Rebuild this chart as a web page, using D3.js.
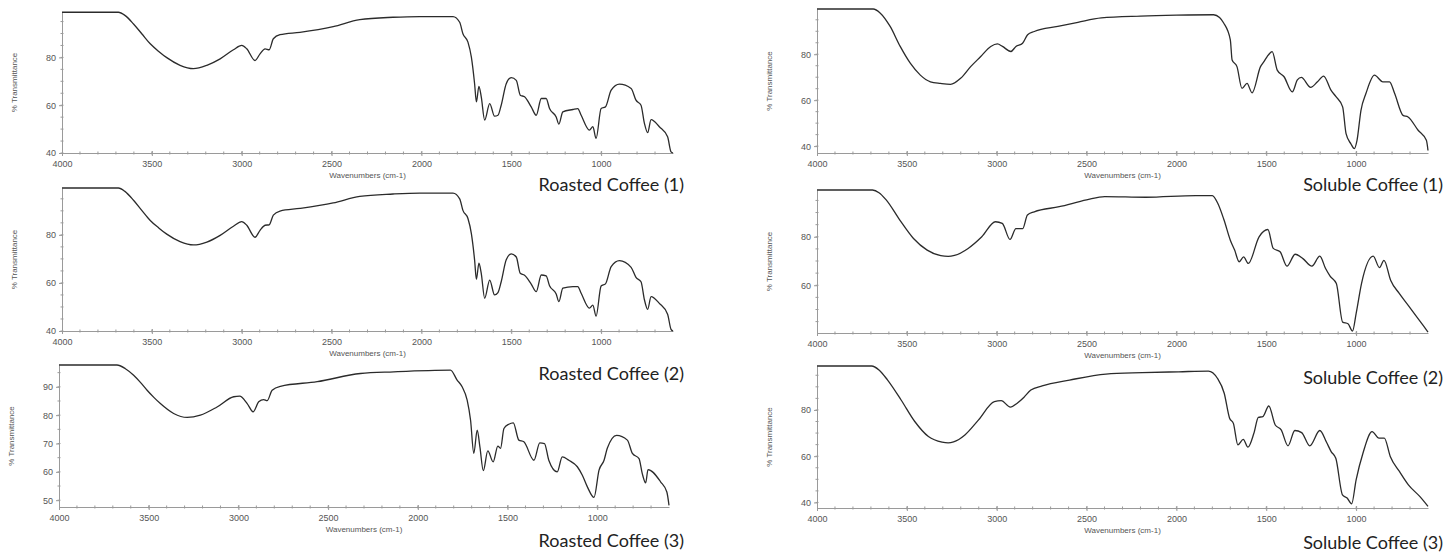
<!DOCTYPE html>
<html>
<head>
<meta charset="utf-8">
<script src="https://cdn.jsdelivr.net/npm/d3@7"></script>
<style>
  body { margin: 0; background: #fff; }
  svg { display: block; }
</style>
</head>
<body>
<svg id="chart" width="1455" height="555"></svg>
<script>
// FTIR spectra, [wavenumber cm-1, % transmittance]
const roasted1 = [
  [4000, 98.9], [3686, 98.9], [3650, 97.6], [3602, 94.0], [3555, 89.8], [3509, 85.7], [3460, 82.4],
  [3417, 79.9], [3343, 76.7], [3269, 75.3], [3194, 76.7], [3120, 79.4], [3046, 83.2], [3000, 85.0],
  [2972, 83.6], [2926, 78.7], [2898, 81.5], [2870, 83.6], [2847, 83.2], [2824, 87.8], [2787, 89.5],
  [2676, 90.5], [2491, 92.9], [2343, 95.8], [2158, 96.8], [2009, 97.1], [1824, 97.1], [1787, 94.7],
  [1769, 89.9], [1741, 86.4], [1722, 80.1], [1704, 69.0], [1694, 61.4], [1680, 67.9], [1667, 63.5],
  [1648, 53.8], [1620, 60.7], [1593, 55.4], [1574, 55.8], [1556, 60.0], [1528, 69.0], [1500, 71.5],
  [1472, 70.4], [1450, 64.2], [1426, 63.5], [1389, 59.3], [1361, 55.8], [1333, 62.8], [1306, 62.8],
  [1287, 58.6], [1250, 55.1], [1235, 52.1], [1213, 57.2], [1157, 58.2], [1130, 58.6], [1111, 55.8],
  [1065, 49.6], [1046, 51.0], [1028, 46.1], [1000, 58.6], [976, 59.3], [944, 66.3], [898, 68.8],
  [833, 67.0], [806, 62.1], [778, 60.0], [759, 52.4], [741, 48.5], [722, 54.0], [676, 51.0],
  [630, 46.8], [611, 40.5], [600, 40.0]
];
const roasted2 = [
  [4000, 99.5], [3686, 99.5], [3650, 98.1], [3602, 94.4], [3555, 90.1], [3509, 86.0], [3460, 82.8],
  [3417, 80.3], [3343, 77.2], [3269, 75.8], [3194, 77.0], [3120, 79.8], [3046, 83.6], [3000, 85.5],
  [2972, 84.0], [2926, 79.0], [2898, 81.9], [2870, 84.0], [2847, 84.2], [2824, 88.2], [2787, 89.9],
  [2676, 91.0], [2491, 93.3], [2343, 96.0], [2158, 97.0], [2009, 97.4], [1824, 97.4], [1787, 95.0],
  [1769, 90.2], [1741, 86.8], [1722, 80.5], [1704, 69.5], [1694, 61.5], [1680, 68.2], [1667, 64.0],
  [1648, 53.6], [1620, 61.2], [1593, 55.0], [1574, 56.0], [1556, 60.5], [1528, 69.6], [1500, 72.1],
  [1472, 70.8], [1450, 64.0], [1426, 63.2], [1389, 59.5], [1361, 56.4], [1333, 63.3], [1306, 62.9],
  [1287, 58.8], [1250, 55.4], [1235, 52.2], [1213, 57.8], [1157, 58.5], [1130, 58.5], [1111, 55.7],
  [1065, 49.5], [1046, 50.8], [1028, 46.2], [1000, 58.7], [976, 59.6], [944, 66.8], [898, 69.3],
  [833, 66.5], [806, 62.3], [778, 60.5], [759, 53.0], [741, 49.0], [722, 54.3], [676, 51.5],
  [630, 47.0], [611, 40.7], [600, 40.0]
];
const roasted3 = [
  [4000, 97.7], [3677, 97.7], [3630, 96.4], [3584, 94.1], [3545, 91.5], [3509, 88.8], [3470, 86.2],
  [3435, 84.1], [3361, 80.6], [3286, 79.2], [3212, 80.0], [3119, 82.9], [3026, 86.5], [2993, 86.7],
  [2951, 84.1], [2918, 81.2], [2887, 84.7], [2859, 85.5], [2840, 85.1], [2812, 88.8], [2766, 90.2],
  [2561, 91.8], [2320, 94.7], [2134, 95.3], [1818, 95.9], [1781, 92.4], [1753, 90.0], [1725, 85.3],
  [1706, 78.2], [1688, 66.5], [1669, 74.7], [1654, 68.8], [1635, 60.4], [1610, 67.4], [1580, 63.5],
  [1554, 69.1], [1539, 68.3], [1520, 75.3], [1493, 76.8], [1468, 77.3], [1437, 71.2], [1409, 70.6],
  [1353, 64.1], [1320, 70.2], [1294, 70.0], [1270, 64.1], [1223, 60.0], [1195, 65.3], [1158, 64.1],
  [1111, 61.8], [1083, 58.8], [1055, 54.7], [1018, 51.0], [990, 60.6], [962, 64.1], [944, 68.3],
  [892, 72.9], [832, 71.2], [804, 66.5], [767, 64.7], [749, 59.4], [730, 56.1], [717, 60.8],
  [647, 56.5], [612, 52.9], [600, 48.2]
];
const soluble1 = [
  [4000, 99.7], [3687, 99.7], [3649, 98.0], [3593, 92.1], [3537, 83.4], [3481, 76.1], [3425, 70.9],
  [3369, 68.0], [3313, 67.3], [3257, 66.9], [3201, 69.5], [3145, 74.6], [3089, 79.0], [3033, 83.4],
  [2996, 84.5], [2968, 83.4], [2921, 81.2], [2893, 83.4], [2856, 84.8], [2828, 88.5], [2791, 89.9],
  [2660, 92.1], [2548, 93.9], [2418, 95.8], [2200, 96.6], [2000, 97.0], [1793, 97.2], [1760, 96.0],
  [1737, 93.6], [1700, 86.3], [1690, 77.5], [1663, 74.6], [1635, 65.1], [1607, 67.3], [1579, 63.2],
  [1532, 74.6], [1513, 76.8], [1495, 79.0], [1467, 81.1], [1439, 73.1], [1401, 70.2], [1355, 63.6],
  [1327, 68.8], [1305, 69.9], [1253, 65.6], [1215, 68.0], [1181, 70.5], [1140, 64.4], [1112, 61.5],
  [1075, 57.1], [1056, 45.4], [1029, 41.0], [1010, 38.9], [995, 42.5], [973, 55.6], [945, 63.0],
  [898, 70.9], [851, 68.0], [814, 68.0], [786, 63.0], [739, 53.4], [711, 52.7], [655, 46.9],
  [609, 42.5], [600, 38.1]
];
const soluble2 = [
  [4000, 99.3], [3691, 99.3], [3655, 98.2], [3615, 95.2], [3539, 86.9], [3463, 79.3], [3387, 74.5],
  [3311, 72.2], [3270, 71.9], [3235, 72.3], [3159, 75.2], [3083, 80.0], [3007, 86.2], [2969, 85.5],
  [2926, 78.9], [2893, 83.4], [2855, 83.4], [2829, 89.0], [2791, 90.3], [2652, 92.4], [2500, 95.2],
  [2399, 96.6], [2170, 96.3], [1892, 97.0], [1800, 97.0], [1770, 93.8], [1735, 86.9], [1700, 78.6],
  [1676, 74.5], [1651, 69.7], [1626, 71.7], [1600, 69.0], [1540, 80.0], [1491, 83.0], [1461, 75.2],
  [1423, 73.8], [1385, 67.9], [1339, 72.8], [1296, 71.0], [1246, 67.9], [1202, 72.0], [1170, 66.9],
  [1144, 63.7], [1110, 60.7], [1075, 44.8], [1045, 44.1], [1020, 41.1], [1000, 48.3], [970, 60.7],
  [905, 72.0], [870, 67.3], [845, 70.3], [808, 62.1], [760, 56.6], [710, 51.7], [648, 45.5], [600, 40.7]
];
const soluble3 = [
  [4000, 99.0], [3696, 99.0], [3655, 97.3], [3608, 93.0], [3532, 84.3], [3456, 75.0], [3380, 68.5],
  [3304, 66.1], [3270, 65.8], [3240, 66.2], [3177, 69.2], [3101, 75.7], [3013, 83.6], [2975, 84.0],
  [2924, 81.2], [2886, 82.9], [2848, 85.5], [2810, 88.6], [2747, 90.4], [2595, 92.9], [2392, 95.5],
  [2190, 96.1], [1987, 96.5], [1822, 96.8], [1772, 93.7], [1734, 87.2], [1704, 76.4], [1683, 74.2],
  [1658, 64.9], [1628, 67.3], [1602, 63.9], [1569, 69.9], [1544, 76.8], [1519, 77.1], [1486, 81.7],
  [1450, 73.5], [1417, 71.4], [1379, 64.5], [1341, 71.1], [1303, 70.2], [1258, 64.5], [1202, 71.1],
  [1164, 65.9], [1139, 62.0], [1113, 59.1], [1076, 43.3], [1050, 41.9], [1025, 39.4], [1000, 49.8],
  [962, 61.3], [911, 70.6], [873, 67.8], [843, 67.8], [810, 59.9], [759, 53.4], [709, 47.6],
  [646, 42.6], [600, 38.3]
];

const captions = ["Roasted Coffee (1)", "Roasted Coffee (2)", "Roasted Coffee (3)",
                  "Soluble Coffee (1)", "Soluble Coffee (2)", "Soluble Coffee (3)"];
const yDomains = [[40, 99], [40, 99.5], [47.6, 97.7], [37, 99.7], [40.3, 99.3], [37.6, 99]];
const yTicks = [[40, 60, 80], [40, 60, 80], [50, 60, 70, 80, 90], [40, 60, 80], [60, 80], [40, 60, 80]];
const xDomain = [4000, 600];
const xTicks = [4000, 3500, 3000, 2500, 2000, 1500, 1000];

const spectra = [roasted1, roasted2, roasted3, soluble1, soluble2, soluble3];

// panel boxes in page pixels
const boxes = [
  {x0: 62, x1: 673, top: 12, bottom: 153, capX: 684, capY: 191},
  {x0: 62, x1: 673, top: 188, bottom: 331, capX: 684, capY: 380},
  {x0: 59, x1: 669, top: 365, bottom: 507, capX: 684, capY: 547},
  {x0: 817, x1: 1428, top: 9, bottom: 153, capX: 1443, capY: 191},
  {x0: 817, x1: 1428, top: 190, bottom: 333, capX: 1443, capY: 384},
  {x0: 817, x1: 1428, top: 366, bottom: 508, capX: 1443, capY: 549}
];

const svg = d3.select("#chart");
const axisColor = "#9a9a9a";
const textColor = "#555";

spectra.forEach((data, i) => {
  const b = boxes[i];
  const x = d3.scaleLinear().domain(xDomain).range([b.x0, b.x1]);
  const y = d3.scaleLinear().domain(yDomains[i]).range([b.bottom, b.top]);
  const g = svg.append("g");

  // x axis
  const xa = g.append("g")
    .attr("transform", `translate(0,${b.bottom})`)
    .call(d3.axisBottom(x).tickValues(xTicks).tickFormat(d3.format("d")).tickSize(3).tickSizeOuter(0));
  xa.select(".domain").attr("stroke", axisColor);
  xa.selectAll(".tick line").attr("stroke", axisColor).attr("y1", -2);
  xa.selectAll(".tick text").attr("fill", textColor).attr("dy", "0.9em")
    .style("font", "9px 'Liberation Sans', Arial, sans-serif");
  xa.append("g").selectAll("line")
    .data(d3.range(3900, 600, -100))
    .join("line")
    .attr("x1", d => x(d)).attr("x2", d => x(d))
    .attr("y1", -1.5).attr("y2", 1.5)
    .attr("stroke", axisColor);

  // y axis
  const ya = g.append("g")
    .attr("transform", `translate(${b.x0},0)`)
    .call(d3.axisLeft(y).tickValues(yTicks[i]).tickSize(3).tickSizeOuter(0));
  ya.select(".domain").attr("stroke", axisColor);
  ya.selectAll(".tick line").attr("stroke", axisColor);
  ya.selectAll(".tick text").attr("fill", textColor)
    .style("font", "9px 'Liberation Sans', Arial, sans-serif");
  const [ylo, yhi] = yDomains[i];
  ya.append("g").selectAll("line")
    .data(d3.range(Math.ceil(ylo / 5) * 5, yhi, 5))
    .join("line")
    .attr("x1", -1.5).attr("x2", 1.5)
    .attr("y1", d => y(d)).attr("y2", d => y(d))
    .attr("stroke", axisColor);

  // axis titles
  g.append("text")
    .attr("x", (b.x0 + b.x1) / 2)
    .attr("y", b.bottom + 25)
    .attr("text-anchor", "middle")
    .attr("fill", textColor)
    .style("font", "8px 'Liberation Sans', Arial, sans-serif")
    .text("Wavenumbers (cm-1)");
  g.append("text")
    .attr("transform", `translate(${b.x0 - 45},${(b.top + b.bottom) / 2}) rotate(-90)`)
    .attr("text-anchor", "middle")
    .attr("fill", textColor)
    .style("font", "8px 'Liberation Sans', Arial, sans-serif")
    .text("% Transmittance");

  // spectrum
  const line = d3.line().curve(d3.curveMonotoneX).x(d => x(d[0])).y(d => y(d[1]));
  g.append("path")
    .datum(data)
    .attr("d", line)
    .attr("fill", "none")
    .attr("stroke", "#2b2b2b")
    .attr("stroke-width", 1.3)
    .attr("stroke-linejoin", "round");

  // caption
  svg.append("text")
    .attr("x", b.capX)
    .attr("y", b.capY)
    .attr("text-anchor", "end")
    .attr("fill", "#222")
    .style("font", "18px Lato, 'Open Sans', sans-serif")
    .text(captions[i]);
});
</script>
</body>
</html>
